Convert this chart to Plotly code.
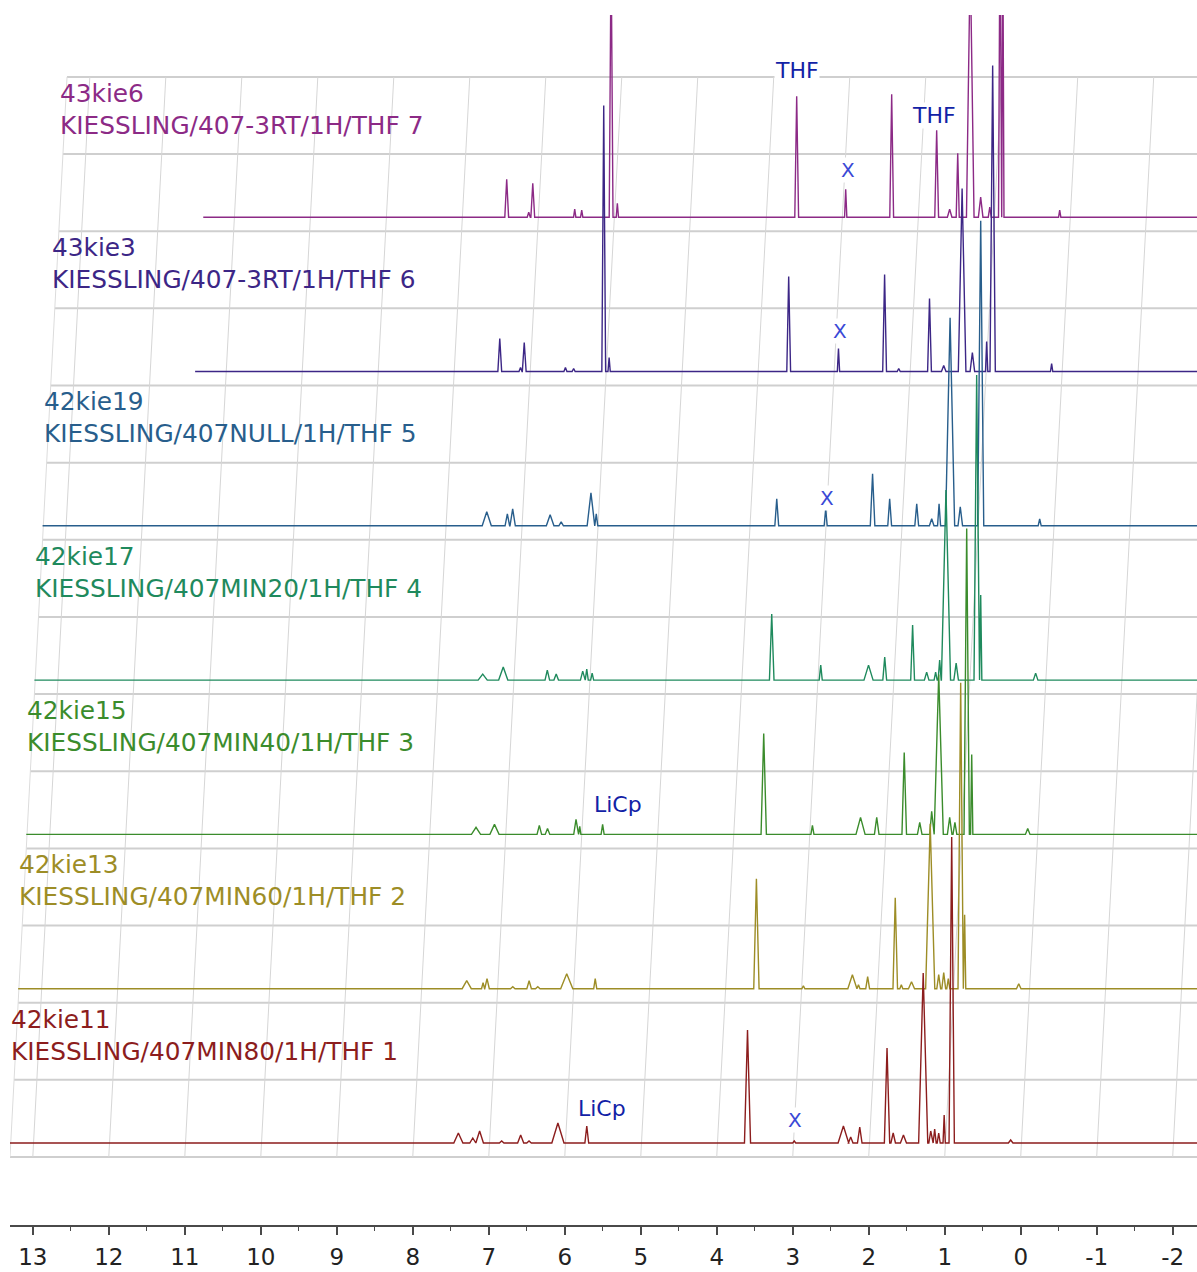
import plotly.graph_objects as go

# Chemical-shift axis
TICK_VALUES = [13, 12, 11, 10, 9, 8, 7, 6, 5, 4, 3, 2, 1, 0, -1, -2]
TICK_LABELS = ["13", "12", "11", "10", "9", "8", "7", "6", "5", "4", "3", "2", "1", "0", "-1", "-2"]

# Stacked 1H spectra, listed from the bottom trace to the top trace
SAMPLE_IDS = ["42kie11", "42kie13", "42kie15", "42kie17", "42kie19", "43kie3", "43kie6"]
EXPERIMENTS = [
    "KIESSLING/407MIN80/1H/THF 1",
    "KIESSLING/407MIN60/1H/THF 2",
    "KIESSLING/407MIN40/1H/THF 3",
    "KIESSLING/407MIN20/1H/THF 4",
    "KIESSLING/407NULL/1H/THF 5",
    "KIESSLING/407-3RT/1H/THF 6",
    "KIESSLING/407-3RT/1H/THF 7",
]
SPECTRUM_START = [13.3, 13.3, 13.3, 13.3, 13.3, 11.4, 11.4]
SPECTRUM_END = -2.6
COLORS = ["#8c1d1d", "#9d8d26", "#3b8c2c", "#1f8a5d", "#285e8c", "#3c2686", "#8c2a86"]

# Peak tables: shift (ppm), intensity, half-width at base (ppm)
S1_PPM = [7.40, 7.21, 7.12, 6.83, 6.58, 6.47, 6.09, 5.71, 3.595, 2.98, 2.333, 2.237, 2.118,
          1.759, 1.678, 1.543, 1.283, 1.184, 1.132, 1.079, 1.007, 0.908, 0.132]
S1_INT = [10, 5, 12, 2, 8, 2, 20, 17, 113, 2, 17, 6, 16, 95, 10, 8, 170, 12, 14, 10, 28, 306, 3]
S1_HW = [0.06, 0.04, 0.05, 0.03, 0.04, 0.03, 0.08, 0.025, 0.04, 0.02, 0.07, 0.03, 0.03,
         0.035, 0.03, 0.04, 0.06, 0.025, 0.02, 0.02, 0.015, 0.035, 0.03]

S2_PPM = [7.397, 7.182, 7.13, 6.791, 6.576, 6.462, 6.081, 5.706, 3.585, 2.967, 2.322, 2.242, 2.121,
          1.758, 1.678, 1.544, 1.298, 1.186, 1.12, 1.06, 0.897, 0.845, 0.133]
S2_INT = [8, 6, 10, 2, 8, 2, 15, 10, 110, 3, 14, 4, 12, 91, 4, 7, 165, 14, 16, 10, 306, 74, 5]
S2_HW = [0.06, 0.02, 0.03, 0.03, 0.03, 0.03, 0.08, 0.02, 0.035, 0.02, 0.06, 0.02, 0.025,
         0.03, 0.02, 0.04, 0.06, 0.025, 0.025, 0.02, 0.035, 0.015, 0.03]

S3_PPM = [7.382, 7.139, 6.549, 6.441, 6.066, 6.017, 5.716, 3.596, 2.955, 2.322, 2.109, 1.747,
          1.543, 1.386, 1.293, 1.149, 1.08, 0.925, 0.859, 0.122]
S3_INT = [7, 10, 9, 6, 15, 8, 10, 101, 9, 17, 17, 82, 12, 23, 160, 17, 12, 306, 80, 6]
S3_HW = [0.06, 0.06, 0.03, 0.03, 0.03, 0.015, 0.02, 0.035, 0.02, 0.06, 0.03, 0.03,
         0.03, 0.025, 0.06, 0.03, 0.025, 0.035, 0.015, 0.03]

S4_PPM = [7.401, 7.131, 6.551, 6.434, 6.085, 6.032, 5.961, 3.598, 2.953, 2.324, 2.111, 1.744,
          1.559, 1.441, 1.388, 1.305, 1.171, 0.901, 0.848, 0.125]
S4_INT = [6, 13, 10, 6, 9, 11, 7, 66, 15, 15, 23, 55, 8, 8, 20, 190, 17, 305, 85, 7]
S4_HW = [0.06, 0.06, 0.03, 0.03, 0.03, 0.02, 0.02, 0.03, 0.02, 0.06, 0.025, 0.025,
         0.03, 0.02, 0.02, 0.06, 0.03, 0.035, 0.015, 0.03]

S5_PPM = [7.455, 7.184, 7.114, 6.621, 6.476, 6.084, 6.014, 3.639, 2.995, 2.378, 2.153, 1.797,
          1.60, 1.503, 1.358, 1.224, 0.955, 0.179]
S5_INT = [14, 12, 17, 11, 4, 33, 12, 27, 17, 52, 27, 22, 7, 22, 208, 19, 305, 7]
S5_HW = [0.06, 0.03, 0.035, 0.05, 0.03, 0.05, 0.02, 0.025, 0.02, 0.03, 0.025, 0.025,
         0.03, 0.02, 0.06, 0.03, 0.04, 0.02]

S6_PPM = [7.391, 7.118, 7.069, 6.527, 6.419, 6.023, 5.952, 3.589, 2.934, 2.327, 2.141, 1.736,
          1.549, 1.307, 1.172, 0.984, 0.905, 0.129]
S6_INT = [33, 4, 29, 4, 3, 266, 14, 95, 23, 97, 3, 73, 6, 183, 19, 30, 306, 8]
S6_HW = [0.025, 0.02, 0.025, 0.02, 0.02, 0.025, 0.015, 0.025, 0.015, 0.025, 0.02, 0.025,
         0.03, 0.05, 0.03, 0.015, 0.035, 0.015]

S7_PPM = [7.407, 7.117, 7.064, 6.512, 6.42, 6.033, 5.951, 3.591, 2.946, 2.341, 1.749, 1.578,
          1.472, 1.307, 1.17, 1.05, 0.915, 0.878, 0.13]
S7_INT = [38, 5, 34, 8, 7, 270, 14, 121, 28, 123, 87, 8, 64, 260, 20, 10, 310, 280, 7]
S7_HW = [0.025, 0.02, 0.025, 0.015, 0.015, 0.025, 0.015, 0.025, 0.015, 0.025, 0.025, 0.03,
         0.02, 0.05, 0.03, 0.02, 0.02, 0.015, 0.015]

PEAK_TABLES = [
    (S1_PPM, S1_INT, S1_HW), (S2_PPM, S2_INT, S2_HW), (S3_PPM, S3_INT, S3_HW),
    (S4_PPM, S4_INT, S4_HW), (S5_PPM, S5_INT, S5_HW), (S6_PPM, S6_INT, S6_HW),
    (S7_PPM, S7_INT, S7_HW),
]

# Peak assignments: (trace index, ppm, text, height above the trace baseline)
LABEL_TRACE = [6, 6, 6, 5, 4, 2, 0, 0]
LABEL_PPM = [3.59, 1.79, 2.92, 2.918, 2.98, 5.52, 5.51, 2.97]
LABEL_TEXT = ["THF", "THF", "X", "X", "X", "LiCp", "LiCp", "X"]
LABEL_RISE = [147, 102, 47, 41, 28, 30, 35, 23]

# Stack geometry
FIRST_BASELINE = 82.0
PANEL = 154.3          # vertical step between traces
SKEW = 0.1072          # horizontal step between traces (ppm)
X_LEFT, X_RIGHT = 13.3, -2.32
Y_TOP = 1210
GRID_BOTTOM = 68.0
GRID_ROWS = 15
GRID_STEP = PANEL / 2


def outline(start, end, ppm, inten, hw):
    xs, ys = [start], [0.0]
    for p, h, w in sorted(zip(ppm, inten, hw), reverse=True):
        xs += [p + w, p, p - w]
        ys += [0.0, h, 0.0]
    xs.append(end)
    ys.append(0.0)
    return xs, ys


def skew_at(y):
    return (y - GRID_BOTTOM) * SKEW / PANEL


fig = go.Figure()

# draw the top trace first so lower traces sit above it
for k in reversed(range(len(PEAK_TABLES))):
    ppm, inten, hw = PEAK_TABLES[k]
    xs, ys = outline(SPECTRUM_START[k], SPECTRUM_END, ppm, inten, hw)
    base = FIRST_BASELINE + k * PANEL
    fig.add_trace(go.Scatter(
        x=[x - k * SKEW for x in xs],
        y=[base + y for y in ys],
        mode="lines",
        line=dict(color=COLORS[k], width=1.4),
        hoverinfo="skip",
        showlegend=False,
    ))

shapes = []
grid_top = GRID_BOTTOM + (GRID_ROWS - 1) * GRID_STEP
# horizontal grid rows, starting at the slanted left edge
for j in range(GRID_ROWS):
    y = GRID_BOTTOM + j * GRID_STEP
    shapes.append(dict(type="line", xref="x", yref="y", layer="below",
                       x0=X_LEFT - skew_at(y), x1=X_RIGHT, y0=y, y1=y,
                       line=dict(color="#cfcfcf", width=2)))
# slanted ppm grid lines
for p in TICK_VALUES:
    shapes.append(dict(type="line", xref="x", yref="y", layer="below",
                       x0=p, x1=p - skew_at(grid_top), y0=GRID_BOTTOM, y1=grid_top,
                       line=dict(color="#d6d6d6", width=1)))
# left edge of the grid
shapes.append(dict(type="line", xref="x", yref="y", layer="below",
                   x0=X_LEFT, x1=X_LEFT - skew_at(grid_top), y0=GRID_BOTTOM, y1=grid_top,
                   line=dict(color="#dcdcdc", width=1)))

annotations = []
for k in range(len(SAMPLE_IDS)):
    base = FIRST_BASELINE + k * PANEL
    annotations.append(dict(
        x=X_LEFT - k * SKEW, y=base + 108, xref="x", yref="y",
        text=SAMPLE_IDS[k] + "<br>" + EXPERIMENTS[k],
        showarrow=False, xanchor="left", yanchor="middle", align="left",
        borderpad=0,
        font=dict(family="DejaVu Sans", size=24.8, color=COLORS[k]),
    ))

for t, p, txt, rise in zip(LABEL_TRACE, LABEL_PPM, LABEL_TEXT, LABEL_RISE):
    base = FIRST_BASELINE + t * PANEL
    is_x = txt == "X"
    annotations.append(dict(
        x=p - t * SKEW, y=base + rise, xref="x", yref="y",
        text=txt, showarrow=False, xanchor="center", yanchor="middle",
        bgcolor="white", borderpad=0,
        font=dict(family="DejaVu Sans", size=20 if is_x else 22,
                  color="#3a48d6" if is_x else "#1222a6"),
    ))

fig.update_layout(
    width=1197, height=1272,
    margin=dict(l=10, r=0, t=15, b=47),
    paper_bgcolor="white", plot_bgcolor="white",
    shapes=shapes, annotations=annotations,
    showlegend=False,
    xaxis=dict(
        range=[X_LEFT, X_RIGHT], showgrid=False, zeroline=False,
        showline=True, linecolor="#4a4a4a", linewidth=1.5,
        tickmode="array", tickvals=TICK_VALUES, ticktext=TICK_LABELS,
        ticks="outside", ticklen=8, tickwidth=1.5, tickcolor="#4a4a4a",
        ticklabelstandoff=3,
        tickfont=dict(family="DejaVu Sans", size=23, color="#222222"),
        minor=dict(dtick=0.5, tick0=0, ticks="outside", ticklen=4,
                   tickwidth=1, tickcolor="#4a4a4a", showgrid=False),
    ),
    yaxis=dict(range=[0, Y_TOP], visible=False, fixedrange=True),
)

fig.write_html("out.html")
